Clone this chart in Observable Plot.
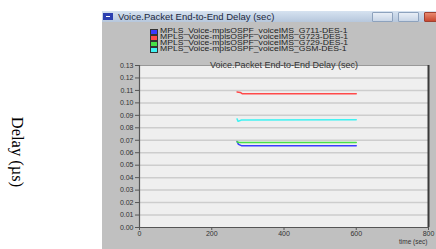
<!DOCTYPE html>
<html><head><meta charset="utf-8">
<script src="https://cdn.jsdelivr.net/npm/d3@7"></script>
<script src="https://cdn.jsdelivr.net/npm/@observablehq/plot@0.6"></script>
<style>
body{margin:0;background:#fff;width:436px;height:249px;overflow:hidden;position:relative;font-family:"Liberation Sans",Arial,sans-serif}
#ylab{position:absolute;left:17px;top:152px;transform:translate(-50%,-50%) rotate(90deg);font-family:"Liberation Serif","Times New Roman",serif;font-size:16.5px;white-space:nowrap;color:#000}
#titlebar{position:absolute;left:102px;top:11px;width:334px;height:11px;background:linear-gradient(#d6e2f0,#b6c7dc);}
#icon{position:absolute;left:1px;top:2px;width:10px;height:7px;background:#2b3fb0;}
#icon:after{content:"";position:absolute;left:3px;top:3px;width:4px;height:1px;background:#fff}
#wtitle{position:absolute;left:16px;top:0;line-height:11px;font-size:9.5px;color:#1c2840;white-space:nowrap}
.btn{position:absolute;top:1px;height:8px;border:1px solid #8da2bd;background:linear-gradient(#e8eef6,#c8d5e6);border-radius:1px}
#chart{position:absolute;left:102px;top:22px}
#legend{position:absolute;left:150px;top:28px;font-size:7px;line-height:6px;color:#222}
.row{height:6px;white-space:nowrap;position:relative}
.sw{display:inline-block;width:6px;height:4px;border:0.5px solid #333;margin-right:2px;vertical-align:top;margin-top:1px}
.lt{display:inline-block;transform:scaleX(1.23);transform-origin:left center}
</style></head><body>
<div id="ylab">Delay (µs)</div>
<div id="titlebar"><div id="icon"></div><div id="wtitle"></div>
<div class="btn" style="left:270px;width:19px"></div>
<div class="btn" style="left:296px;width:19px"></div>
<div class="btn" style="left:322px;width:14px;background:linear-gradient(#e88a70,#c84830);border-color:#a04030"></div>
</div>
<div id="chart"></div>
<div id="legend"></div>
<script>
const windowTitle = "Voice.Packet End-to-End Delay (sec)";
const chartTitle = "Voice.Packet End-to-End Delay (sec)";
const xLabel = "time (sec)";
const seriesNames = [
  "MPLS_Voice-mplsOSPF_voiceIMS_G711-DES-1",
  "MPLS_Voice-mplsOSPF_voiceIMS_G723-DES-1",
  "MPLS_Voice-mplsOSPF_voiceIMS_G729-DES-1",
  "MPLS_Voice-mplsOSPF_voiceIMS_GSM-DES-1"
];
const seriesColors = ["#3a3aff", "#ff4a4a", "#48e048", "#3ff2f2"];
const timeG711 = [270, 274, 282, 600];
const delayG711 = [0.0690, 0.0667, 0.0657, 0.0656];
const timeG723 = [270, 279, 285, 600];
const delayG723 = [0.1088, 0.1084, 0.1073, 0.1073];
const timeG729 = [270, 275, 600];
const delayG729 = [0.0688, 0.0682, 0.0682];
const timeGSM = [270, 273, 282, 600];
const delayGSM = [0.0872, 0.0852, 0.0863, 0.0864];
const yTicks = [0, 0.01, 0.02, 0.03, 0.04, 0.05, 0.06, 0.07, 0.08, 0.09, 0.10, 0.11, 0.12, 0.13];
const xTicks = [0, 200, 400, 600, 800];

document.getElementById("wtitle").textContent = windowTitle;

const times = [timeG711, timeG723, timeG729, timeGSM];
const delays = [delayG711, delayG723, delayG729, delayGSM];
const rows = [];
seriesNames.forEach((s, i) => times[i].forEach((t, j) => rows.push({series: s, t, d: delays[i][j]})));

const leg = document.getElementById("legend");
seriesNames.forEach((s, i) => {
  const r = document.createElement("div");
  r.className = "row";
  r.innerHTML = `<span class="sw" style="background:${seriesColors[i]}"></span><span class="lt">${s}</span>`;
  leg.appendChild(r);
});

const chart = Plot.plot({
  width: 334, height: 227,
  marginLeft: 37, marginRight: 8, marginTop: 43, marginBottom: 22,
  style: {background: "#c0c0c0", fontFamily: "Liberation Sans, Arial, sans-serif", fontSize: "7px", color: "#333"},
  x: {domain: [0, 800]},
  y: {domain: [0, 0.13]},
  color: {domain: seriesNames, range: seriesColors},
  marks: [
    Plot.frame({fill: "#efefef", stroke: null}),
    Plot.ruleY(yTicks.slice(1, -1), {stroke: "#cdcdcd", strokeWidth: 1.5}),
    Plot.ruleY([0.13], {stroke: "#999", strokeWidth: 1}),
    Plot.ruleX([800], {stroke: "#3a3a3a", strokeWidth: 2}),
    Plot.line(rows, {x: "t", y: "d", z: "series", stroke: "series", strokeWidth: 1.5}),
    Plot.ruleX([0], {stroke: "#555", strokeWidth: 1.2}),
    Plot.ruleY([0], {stroke: "#555", strokeWidth: 1.2}),
    Plot.axisY({ticks: yTicks, tickFormat: d3.format(".2f"), tickSize: 4, tickPadding: 2, label: null, stroke: "#555"}),
    Plot.axisX({ticks: xTicks, tickFormat: d => String(d), tickSize: 3, tickPadding: 1, label: null, stroke: "#555"}),
    Plot.text([chartTitle], {frameAnchor: "top", dy: -4, fill: "#333", fontSize: 9}),
    Plot.text([xLabel], {frameAnchor: "bottom-right", dy: 16, dx: -1, textAnchor: "end", fill: "#333", fontSize: 6.5})
  ]
});
document.getElementById("chart").appendChild(chart);
</script>
</body></html>
